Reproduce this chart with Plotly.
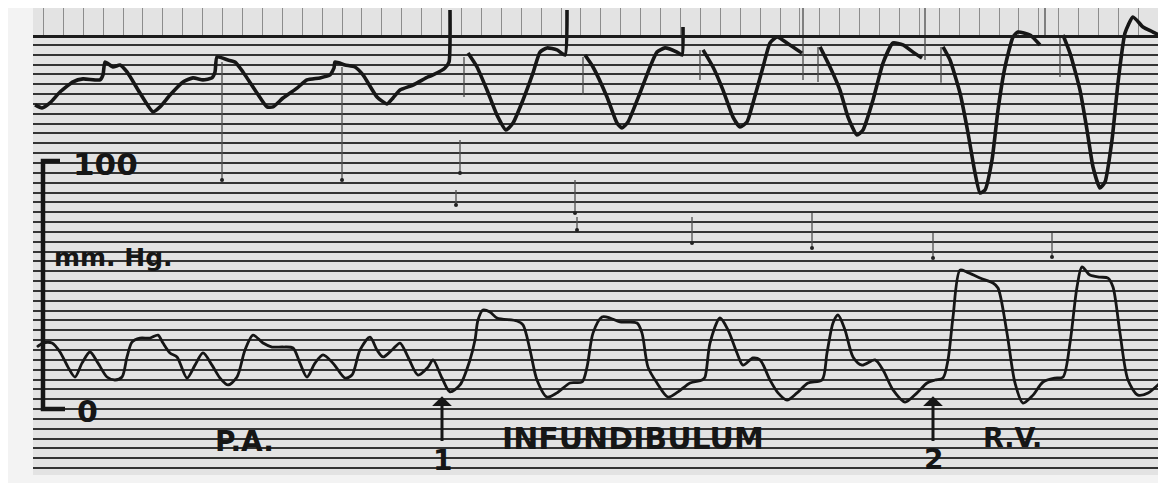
import plotly.graph_objects as go

# ---- data read from the tracing: time in s, pressure in mmHg ----
# upper channel (None = pen lift at the fast upstroke)
upper_t = [-0.28, -0.21, -0.13, -0.03, 0.10, 0.20, 0.37, 0.40, 0.42, 0.50, 0.57, 0.64, 0.77, 0.90, 0.97,
           1.07, 1.20, 1.30, 1.40, 1.49, 1.52, 1.54, 1.65, 1.72, 1.80, 1.94, 2.04, 2.10, 2.20, 2.34,
           2.44, 2.57, 2.67, 2.71, 2.72, 2.82, 2.92, 3.00, 3.14, 3.24, 3.30, 3.37, 3.50, 3.65, 3.70,
           3.82, 3.86, 3.87, None,
           4.05, 4.14, 4.24, 4.34, 4.43, 4.50, 4.60, 4.70, 4.77, 4.84, 4.94, 5.02, 5.04, None,
           5.22, 5.30, 5.44, 5.54, 5.59, 5.65, 5.77, 5.87, 5.94, 6.02, 6.14, 6.19, 6.20, None,
           6.40, 6.50, 6.60, 6.70, 6.77, 6.84, 6.90, 7.00, 7.07, 7.14, 7.24, 7.39, None,
           7.57, 7.67, 7.77, 7.85, 7.94, 8.00, 8.10, 8.20, 8.30, 8.40, 8.50, 8.59, None,
           8.80, 8.87, 8.97, 9.05, 9.12, 9.17, 9.22, 9.29, 9.35, 9.42, 9.50, 9.55, 9.67, 9.77, None,
           10.00, 10.07, 10.17, 10.24, 10.30, 10.37, 10.42, 10.49, 10.55, 10.62, 10.70, 10.80, 10.90,
           10.99, 11.01]
upper_p = [122.6, 121.4, 123.4, 127.8, 131.9, 133.1, 132.7, 134.7, 139.9, 137.9, 138.7, 135.9, 127.4, 119.8, 121.8,
           126.6, 131.9, 133.5, 132.7, 133.5, 135.9, 141.9, 140.7, 139.9, 135.9, 127.4, 121.8, 121.8, 125.4, 129.4,
           132.7, 133.5, 134.7, 137.5, 139.9, 138.7, 137.9, 134.7, 125.8, 123.0, 125.4, 128.6, 130.6, 133.9, 134.7,
           137.5, 139.9, 160.9, None,
           143.5, 137.9, 128.6, 118.5, 112.5, 115.3, 124.6, 135.5, 143.9, 145.6, 144.8, 142.7, 160.9, None,
           142.7, 137.9, 125.8, 115.3, 113.3, 115.7, 127.4, 137.9, 143.9, 145.6, 143.9, 142.7, 154.0, None,
           144.8, 137.9, 128.6, 117.7, 113.7, 115.7, 123.4, 137.9, 147.6, 150.0, 147.6, 143.5, None,
           146.0, 137.9, 128.6, 117.7, 110.5, 112.5, 124.6, 139.5, 147.6, 146.8, 143.9, 141.5, None,
           146.0, 140.7, 127.4, 111.3, 95.2, 87.1, 88.3, 100.4, 120.6, 137.9, 150.0, 152.0, 150.8, 146.8, None,
           150.8, 143.5, 128.6, 112.5, 97.6, 89.1, 91.5, 108.5, 131.5, 151.6, 158.1, 154.0, 152.0,
           150.0, 146.0]

# lower channel: P.A. -> infundibulum -> R.V. pressure (mmHg)
lower_t = [-0.26, -0.20, -0.11, -0.03, 0.05, 0.12, 0.19, 0.27, 0.35, 0.44, 0.52, 0.59, 0.64, 0.69, 0.77,
           0.87, 0.95, 1.00, 1.07, 1.14, 1.24, 1.32, 1.40, 1.49, 1.57, 1.65, 1.74, 1.82, 1.90, 2.00,
           2.09, 2.20, 2.30, 2.37, 2.44, 2.52, 2.60, 2.70, 2.82, 2.89, 2.97, 3.07, 3.14, 3.20, 3.29,
           3.37, 3.45, 3.55, 3.65, 3.70, 3.79, 3.87, 3.97, 4.07, 4.12, 4.15, 4.20, 4.27, 4.34, 4.54,
           4.60, 4.67, 4.74, 4.84, 4.94, 5.07, 5.19, 5.24, 5.30, 5.39, 5.47, 5.57, 5.74, 5.79, 5.85,
           5.94, 6.05, 6.15, 6.27, 6.39, 6.42, 6.47, 6.57, 6.65, 6.74, 6.80, 6.90, 6.97, 7.07, 7.15,
           7.24, 7.34, 7.45, 7.59, 7.64, 7.70, 7.75, 7.82, 7.90, 7.99, 8.12, 8.20, 8.30, 8.42, 8.54,
           8.64, 8.72, 8.80, 8.85, 8.90, 8.97, 9.04, 9.17, 9.30, 9.35, 9.44, 9.52, 9.60, 9.70, 9.80,
           9.92, 10.00, 10.07, 10.14, 10.19, 10.27, 10.37, 10.45, 10.50, 10.57, 10.65, 10.75, 10.85, 11.02]
lower_p = [25.0, 26.6, 26.6, 23.0, 16.9, 12.9, 18.5, 23.0, 18.5, 12.9, 11.7, 12.9, 21.0, 27.0, 28.6,
           28.6, 29.8, 26.6, 22.6, 21.0, 12.5, 17.7, 22.6, 17.7, 12.5, 9.7, 12.9, 23.8, 29.8, 26.6,
           25.0, 25.0, 24.6, 18.5, 12.9, 18.5, 21.8, 18.5, 12.5, 13.7, 23.8, 29.0, 23.8, 21.0, 23.8,
           26.6, 21.0, 13.7, 16.9, 19.8, 12.5, 6.9, 9.7, 19.8, 27.8, 35.9, 39.9, 39.1, 36.7, 35.5,
           33.9, 23.8, 11.7, 4.8, 6.5, 10.5, 10.9, 16.9, 30.6, 37.1, 36.7, 35.1, 34.7, 30.6, 16.9,
           10.5, 4.8, 6.9, 10.5, 11.7, 12.9, 26.6, 36.7, 31.9, 22.6, 17.7, 20.6, 19.8, 11.7, 6.5,
           3.6, 6.5, 10.5, 11.7, 22.6, 34.7, 37.9, 31.9, 21.0, 17.7, 19.8, 15.7, 7.7, 2.8, 6.5,
           10.5, 11.7, 12.5, 19.8, 37.1, 56.0, 55.2, 52.8, 50.8, 48.8, 30.6, 10.5, 2.4, 5.6, 10.9,
           12.5, 12.9, 26.6, 49.2, 57.3, 54.0, 53.2, 52.8, 49.2, 30.6, 11.7, 5.6, 6.5, 12.5]

# thin event / upstroke marks (time, top, bottom)
stroke_t = [4.01, 5.20, 6.37, 7.55, 8.78, 9.97, 7.40, 8.62, 9.82]
stroke_top = [141.9, 141.9, 144.8, 146.0, 146.0, 150.8, 162.0, 162.0, 162.0]
stroke_bot = [125.8, 126.6, 132.7, 131.9, 131.5, 133.9, 132.7, 140.7, 150.0]
drop_t = [1.59, 2.79, 3.97, 3.93, 5.12, 5.14, 6.29, 7.49, 8.70, 9.89]
drop_top = [139.9, 137.9, 108.5, 88.3, 92.3, 77.4, 77.4, 79.0, 71.0, 71.0]
drop_bot = [92.3, 92.3, 95.2, 82.3, 79.0, 72.2, 66.9, 64.9, 60.9, 61.3]

cal_levels = [0, 100]          # calibration bracket, mmHg
chart_div = 3.968              # ruling spacing (mmHg per division)
time_mark = 0.1991             # time-marker spacing (s)
section_labels = ["P.A.", "INFUNDIBULUM", "R.V."]


def segs(ts, tops, bots):
    xs, ys = [], []
    for t, a, b in zip(ts, tops, bots):
        xs += [t, t, None]
        ys += [a, b, None]
    return xs, ys


fig = go.Figure()
INK = "#161616"
sx, sy = segs(stroke_t, stroke_top, stroke_bot)
dx, dy = segs(drop_t, drop_top, drop_bot)

for xa, ya in (("x", "y"), ("x2", "y2")):
    fig.add_trace(go.Scatter(x=sx, y=sy, mode="lines", xaxis=xa, yaxis=ya,
                             line=dict(color="#4a4a4a", width=1.3), hoverinfo="skip"))
    fig.add_trace(go.Scatter(x=dx, y=dy, mode="lines", xaxis=xa, yaxis=ya,
                             line=dict(color="#505050", width=1.3), hoverinfo="skip"))
    fig.add_trace(go.Scatter(x=upper_t, y=upper_p, mode="lines", xaxis=xa, yaxis=ya,
                             line=dict(color=INK, width=3.6, shape="spline", smoothing=0.5),
                             connectgaps=False))

fig.add_trace(go.Scatter(x=drop_t, y=drop_bot, mode="markers",
                         marker=dict(color="#222", size=4, symbol="circle"), hoverinfo="skip"))
fig.add_trace(go.Scatter(x=lower_t, y=lower_p, mode="lines",
                         line=dict(color=INK, width=2.8, shape="spline", smoothing=0.8)))
# calibration bracket
fig.add_trace(go.Scatter(x=[-0.03, -0.20, -0.20, 0.02],
                         y=[cal_levels[1], cal_levels[1], cal_levels[0], cal_levels[0]],
                         mode="lines", line=dict(color=INK, width=4.5), hoverinfo="skip"))

FONT = "DejaVu Sans"
ann = []


def label(text, x, y, size, xanchor="center"):
    ann.append(dict(text="<b>%s</b>" % text, x=x, y=y, xref="x", yref="y", showarrow=False,
                    xanchor=xanchor, yanchor="middle",
                    font=dict(family=FONT, size=size, color=INK)))


label(str(cal_levels[1]), 0.08, 98.6, 31, "left")
label("mm. Hg.", -0.11, 60.9, 25, "left")
label(str(cal_levels[0]), 0.245, -0.8, 30)
label(section_labels[0], 1.81, -12.9, 28)
label(section_labels[1], 5.70, -11.7, 30)
label(section_labels[2], 9.49, -11.3, 27)
label("1", 3.79, -20.6, 28)
label("2", 8.70, -20.2, 28)
for xa in (3.79, 8.70):
    ann.append(dict(x=xa, y=5.2, ax=xa, ay=-13.5, xref="x", yref="y", axref="x", ayref="y",
                    text="", showarrow=True, arrowhead=1, arrowsize=1.1, arrowwidth=3,
                    arrowcolor=INK))

# page body has an 8px margin; plot area spans page x 33..1166, y 8..475
band_lo = (475 - 35) / 467
fig.update_layout(
    width=1158, height=475,
    margin=dict(l=25, r=0, t=0, b=8),
    paper_bgcolor="#f3f3f3", plot_bgcolor="#e3e3e3",
    showlegend=False,
    annotations=ann,
    xaxis=dict(range=[-0.30, 11.03], domain=[0, 1], showgrid=False, zeroline=False,
               showticklabels=False, ticks="", anchor="y"),
    yaxis=dict(range=[-26.6, 150.8], domain=[0, band_lo], showgrid=True, gridcolor="#343434",
               gridwidth=1.6, tick0=0, dtick=chart_div, zeroline=False,
               showticklabels=False, ticks=""),
    xaxis2=dict(range=[-0.30, 11.03], matches="x", anchor="y2", showgrid=True,
                gridcolor="#8c8c8c", gridwidth=1, tick0=0.003, dtick=time_mark,
                zeroline=False, showticklabels=False, ticks="",
                showline=True, linecolor="#1c1c1c", linewidth=2.6),
    yaxis2=dict(range=[150.8, 161.7], domain=[band_lo, 1], showgrid=False, zeroline=False,
                showticklabels=False, ticks=""),
)

fig.write_html("out.html")
